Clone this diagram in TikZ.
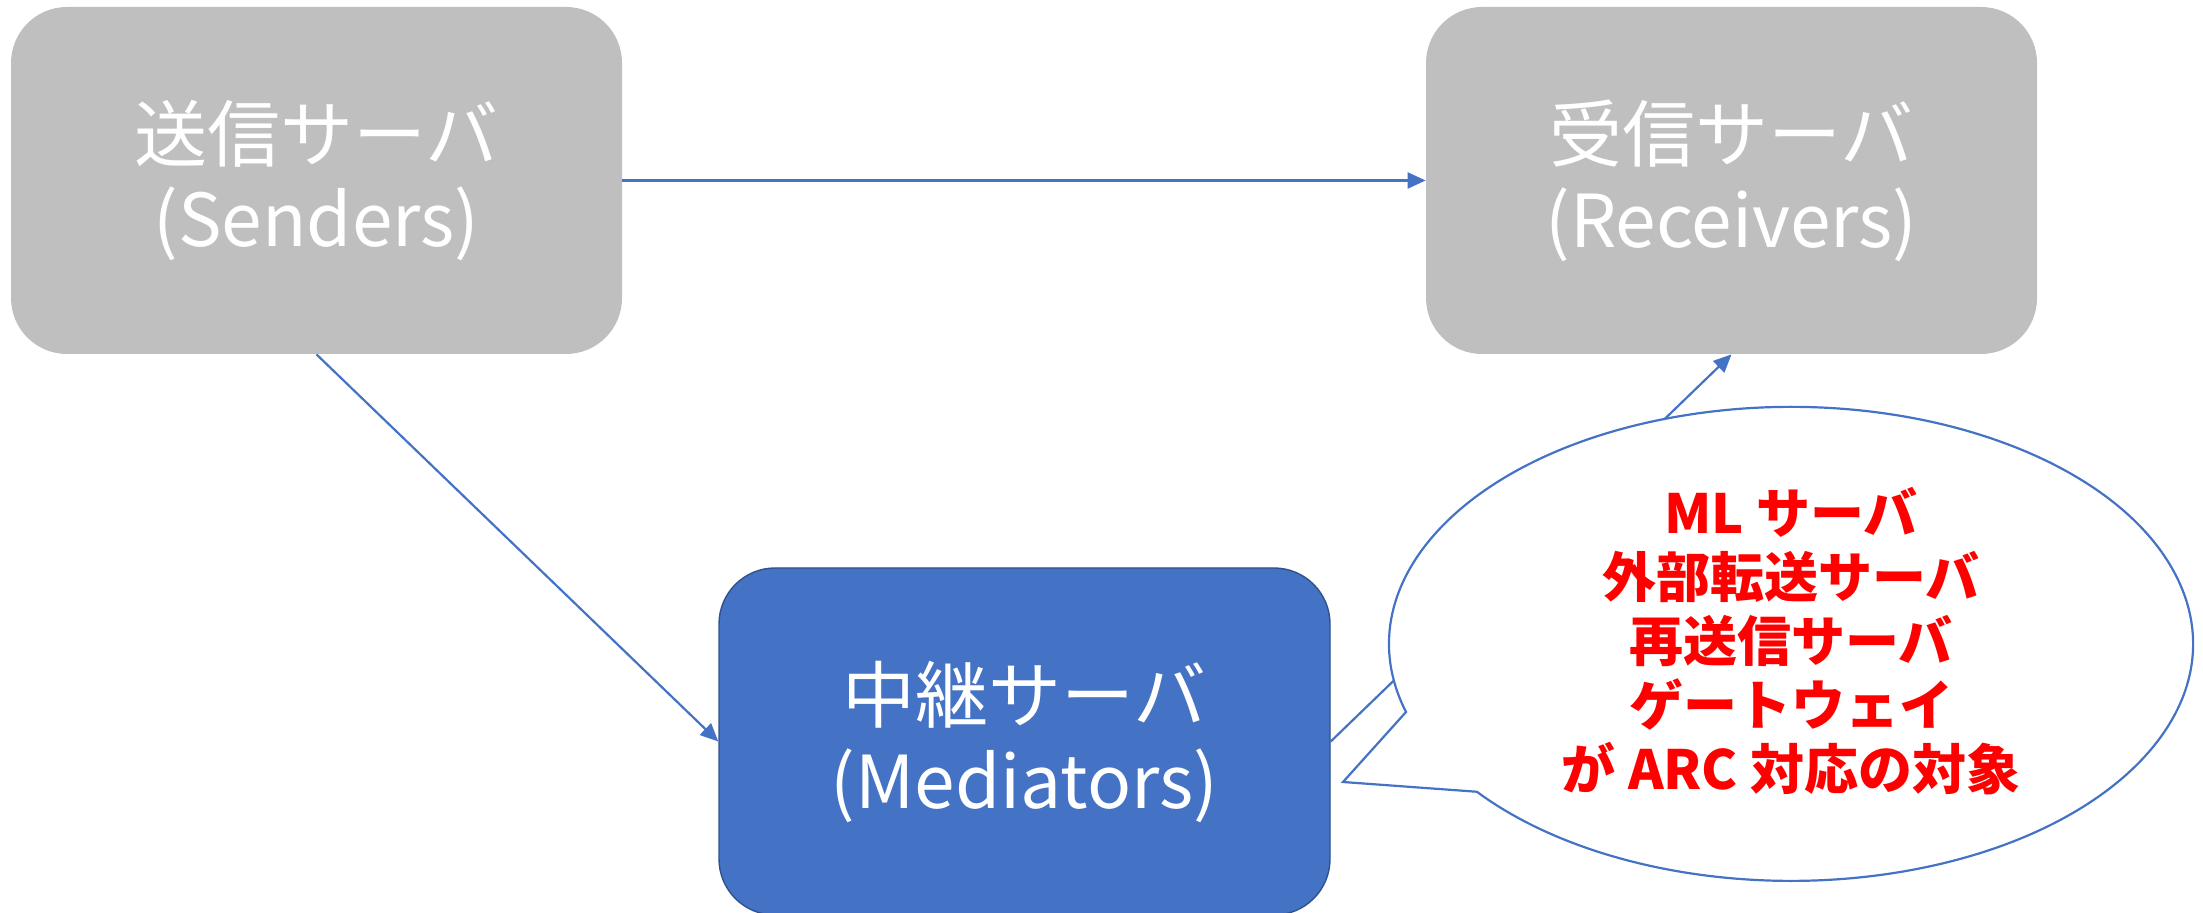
\documentclass[tikz,border=0pt]{standalone}
\usepackage{fontspec}
\newfontfamily\jp{Noto Sans CJK JP}
\usetikzlibrary{arrows.meta}
\definecolor{boxgrey}{HTML}{BFBFBF}
\definecolor{accent}{HTML}{4472C4}
\definecolor{accentdark}{HTML}{2F528F}
\begin{document}
\begin{tikzpicture}[x=0.5pt,y=-0.5pt,
  server/.style={rectangle, rounded corners=28pt, minimum width=305.5pt,
    minimum height=173.5pt, inner sep=0pt, text=white, align=center,
    font=\jp\fontsize{36.5}{43}\selectfont},
  idle/.style={server, fill=boxgrey},
  active/.style={server, fill=accent, draw=accentdark, line width=0.7pt},
  flow/.style={draw=accent, line width=1.1pt, -{Triangle[length=9pt,width=8pt]}},
  bubble/.style={draw=accent, fill=white, line width=1.1pt},
  note/.style={text=red, align=center, inner sep=0pt,
    font=\jp\bfseries\fontsize{27}{32}\selectfont}]
\useasboundingbox (0,0) rectangle (2203,913);
\clip (0,0) rectangle (2203,913);

% servers
\node[idle]   (snd) at (316.5,180.5)  {送信サーバ\\(Senders)};
\node[idle]   (rcv) at (1731.5,180.5) {受信サーバ\\(Receivers)};
\node[active] (med) at (1024.5,741.5) {中継サーバ\\(Mediators)};

% message flows
\draw[flow] (snd.east)  -- (rcv.west);
\draw[flow] (snd.south) -- (med.west);
\draw[flow] (med.east)  -- (rcv.south);

% speech bubble pointing at the mediator
\coordinate (tip) at (1343,782);
\path[bubble] (1406,712)
  arc[start angle=163.3, end angle=501.4, x radius=402, y radius=237]
  -- (tip) -- cycle;
\node[note] (note) at (1791,641)
  {ML サーバ\\外部転送サーバ\\再送信サーバ\\ゲートウェイ\\が ARC 対応の対象};
\end{tikzpicture}
\end{document}
